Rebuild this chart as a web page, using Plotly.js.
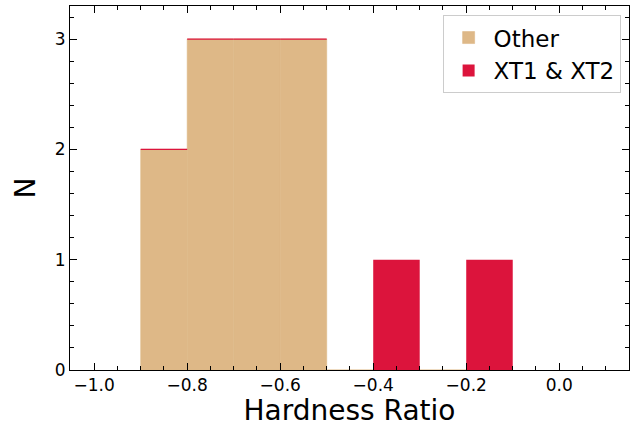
<!DOCTYPE html>
<html><head><meta charset="utf-8">
<script src="https://cdn.plot.ly/plotly-3.0.1.min.js"></script>
<style>html,body{margin:0;padding:0;background:#fff}#c{width:643px;height:427px}</style>
</head><body><div id="c"></div>
<script>
var binCenters = [-0.85, -0.75, -0.65, -0.55, -0.45, -0.35, -0.25, -0.15];
var otherCounts = [2, 3, 3, 3, 0, 0, 0, 0];
var xtCounts = [0, 0, 0, 0, 0, 1, 0, 1];
var binWidth = 0.1;

// stacked-top edge of the (zero-height) XT bars over "Other" bins
var edgeX = [], edgeY = [];
binCenters.forEach(function(c, i){
  if (otherCounts[i] > 0) {
    edgeX.push(c - binWidth/2, c + binWidth/2, null);
    var h = otherCounts[i] + xtCounts[i];
    edgeY.push(h, h, null);
  }
});

var font = 'DejaVu Sans, sans-serif';
var data = [
  {type:'bar', x:binCenters, y:otherCounts, width:binWidth, name:'Other',
   marker:{color:'#DEB887', line:{width:0.6, color:'#DEB887'}}},
  {type:'bar', x:binCenters, y:xtCounts, base:otherCounts, width:binWidth, name:'XT1 &amp; XT2',
   marker:{color:'#DC143C', line:{width:0}}},
  {type:'scatter', mode:'lines', x:edgeX, y:edgeY, showlegend:false, hoverinfo:'skip',
   line:{color:'#DC143C', width:1.3}}
];
var layout = {
  width:643, height:427,
  margin:{l:70, r:14, t:6, b:57},
  paper_bgcolor:'#fff', plot_bgcolor:'#fff',
  barmode:'overlay',
  showlegend:true,
  font:{family:font, color:'#000'},
  xaxis:{range:[-1.052, 0.15], tickvals:[-1.0,-0.8,-0.6,-0.4,-0.2,0.0], ticktext:['\u22121.0','\u22120.8','\u22120.6','\u22120.4','\u22120.2','0.0'],
    ticks:'inside', ticklen:7, tickwidth:1, tickcolor:'#000',
    minor:{dtick:0.05, tick0:0, ticks:'inside', ticklen:4, tickwidth:1, tickcolor:'#000'},
    showline:true, linecolor:'#000', linewidth:1, mirror:'allticks',
    showgrid:false, zeroline:false, tickfont:{size:17, family:font},
    title:{text:'Hardness Ratio', font:{size:28, family:font}, standoff:4}},
  yaxis:{range:[0, 3.3], tickvals:[0,1,2,3],
    ticks:'inside', ticklen:7, tickwidth:1, tickcolor:'#000',
    minor:{dtick:0.2, tick0:0, ticks:'inside', ticklen:4, tickwidth:1, tickcolor:'#000'},
    showline:true, linecolor:'#000', linewidth:1, mirror:'allticks',
    showgrid:false, zeroline:false, tickfont:{size:17, family:font},
    title:{text:'N', font:{size:28, family:font}, standoff:10}},
  legend:{x:0.985, y:0.975, xanchor:'right', yanchor:'top', bgcolor:'rgba(255,255,255,0.8)',
    bordercolor:'#ccc', borderwidth:1, font:{size:23, family:font}, itemwidth:40, tracegroupgap:0}
};
Plotly.newPlot('c', data, layout, {displayModeBar:false, staticPlot:true});
</script></body></html>
